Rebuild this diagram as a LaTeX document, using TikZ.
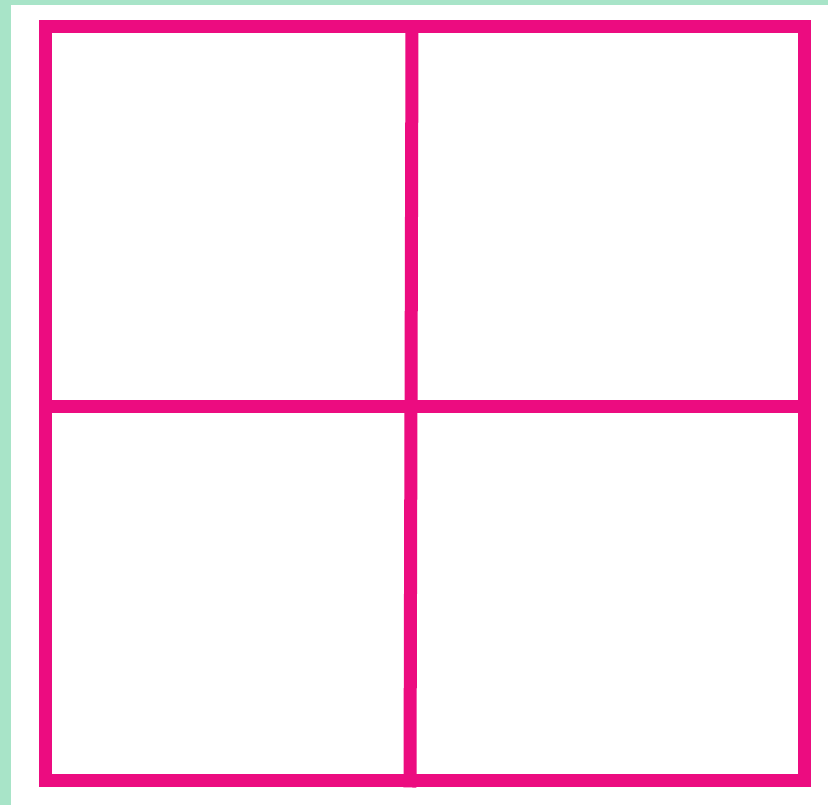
\documentclass[tikz,border=0pt]{standalone}
\definecolor{mint}{RGB}{168,228,200}
\definecolor{gridpink}{RGB}{236,12,128}
\begin{document}
\begin{tikzpicture}[x=1pt,y=1pt,
  gridline/.style={draw=gridpink,line width=13pt,line cap=rect}]
\useasboundingbox (0,0) rectangle (828,805);
\fill[mint] (0,0) rectangle (828,805);
\fill[white] (11,0) rectangle (828,800);
\coordinate (tl) at (45,778);
\coordinate (tr) at (804,778);
\coordinate (bl) at (45,24);
\coordinate (br) at (804,24);
\coordinate (tm) at (412,778);
\coordinate (bm) at (410,24);
\coordinate (lm) at (45,398);
\coordinate (rm) at (804,398);
\draw[gridline,line join=miter] (tl) -- (tr) -- (br) -- (bl) -- cycle;
\draw[gridline] (tm) -- (bm);
\draw[gridline] (lm) -- (rm);
\end{tikzpicture}
\end{document}
